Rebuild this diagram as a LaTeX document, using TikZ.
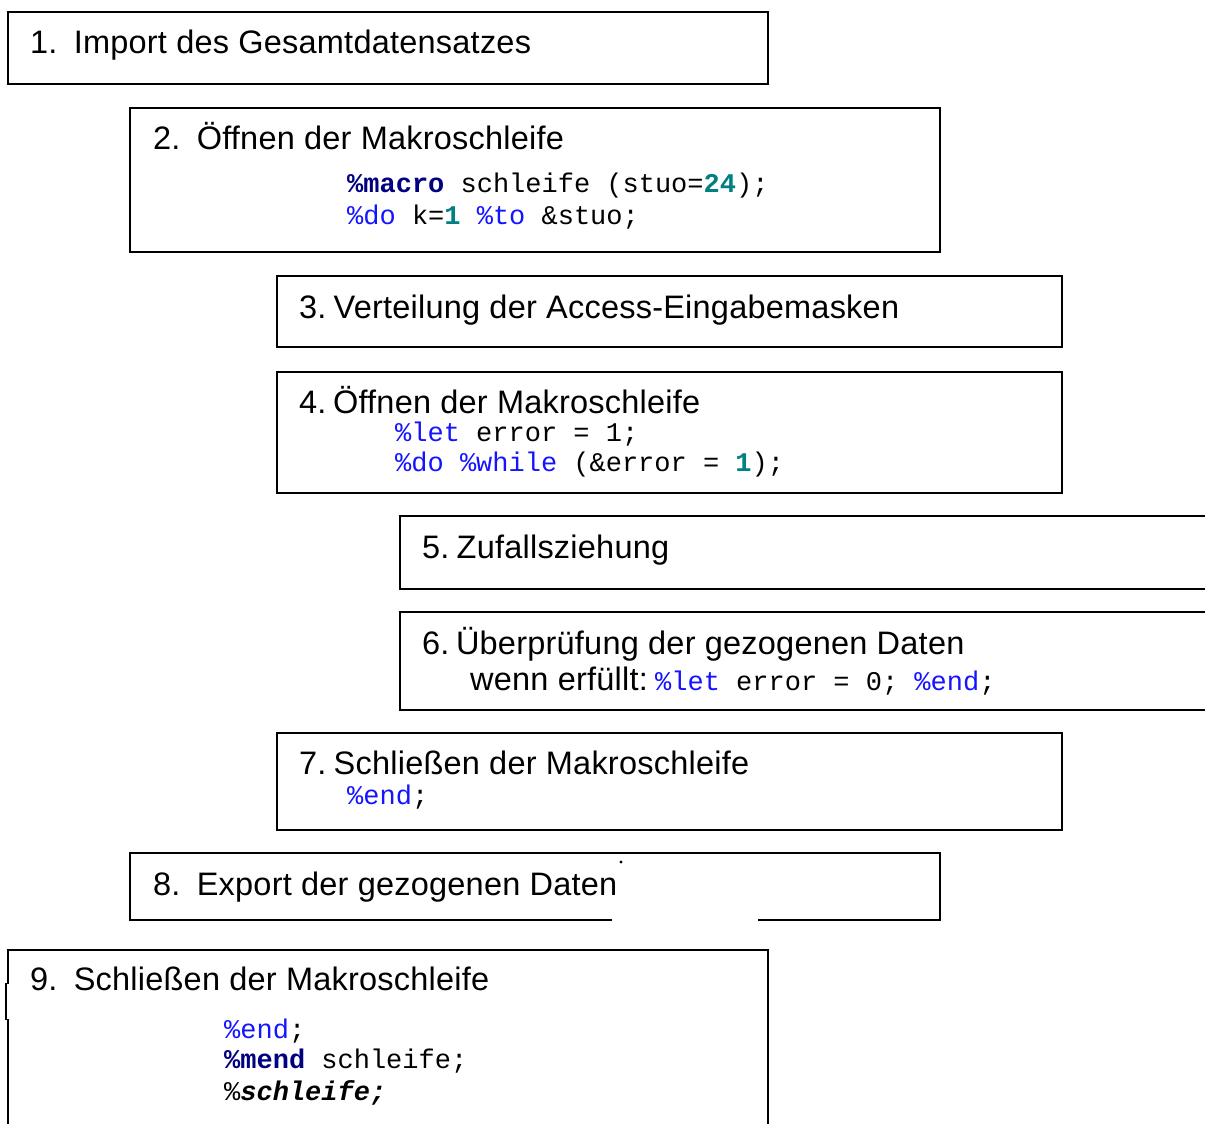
\documentclass[tikz,border=0pt]{standalone}
\usepackage{fontspec}
\setmainfont{Liberation Sans}[LetterSpace=0.7]
\setmonofont{Liberation Mono}
\definecolor{kwblue}{RGB}{20,20,255}
\definecolor{kwnavy}{RGB}{0,0,128}
\definecolor{numteal}{RGB}{0,128,128}
\newcommand{\headfont}{\fontsize{32.5}{38}\selectfont}
\newcommand{\codefont}{\fontsize{27}{30}\selectfont\ttfamily}
\newcommand{\kw}[1]{\textcolor{kwblue}{#1}}
\newcommand{\mkw}[1]{\textcolor{kwnavy}{\bfseries #1}}
\newcommand{\num}[1]{\textcolor{numteal}{\bfseries #1}}
\tikzset{
  box/.style={draw, line width=2pt, rectangle, inner sep=0pt},
  head/.style={anchor=base west, inner sep=0pt, font=\headfont},
  code/.style={anchor=base west, inner sep=0pt, font=\codefont},
}
\begin{document}
\begin{tikzpicture}[x=1pt,y=-1pt]
\useasboundingbox (0,0) rectangle (1205,1124);
\clip (0,0) rectangle (1205,1124);
\fill[white] (0,0) rectangle (1205,1124);

% step boxes
\node[box, minimum width=760pt, minimum height=72pt] (b1) at (388,48) {};
\node[box, minimum width=810pt, minimum height=144pt] (b2) at (535,180) {};
\node[box, minimum width=785pt, minimum height=71pt] (b3) at (669.5,311.5) {};
\node[box, minimum width=785pt, minimum height=121pt] (b4) at (669.5,432.5) {};
\node[box, minimum width=830pt, minimum height=73pt] (b5) at (815,552.5) {};
\node[box, minimum width=830pt, minimum height=98pt] (b6) at (815,661) {};
\node[box, minimum width=785pt, minimum height=97pt] (b7) at (669.5,781.5) {};
\node[box, minimum width=810pt, minimum height=67pt] (b8) at (535,886.5) {};
\node[box, minimum width=760pt, minimum height=180pt] (b9) at (388,1040) {};

% gap in the lower edge of box 8 and the stray dot above it
\fill[white] (612,915) rectangle (758,925);
\fill (621,862) circle (1.6pt);
% small kink in the left edge of box 9
\draw[line width=2pt] (6,983) -- (6,1020);
\fill[white] (7,984) rectangle (10,1019);

% headings
\node[head] (t1) at (30,54) {1.\hspace{0.5em}Import des Gesamtdatensatzes};
\node[head] (t2) at (153,149) {2.\hspace{0.5em}Öffnen der Makroschleife};
\node[head] (t3) at (299,318) {3.\hspace{0.22em}Verteilung der Access-Eingabemasken};
\node[head] (t4) at (299,413) {4.\hspace{0.2em}Öffnen der Makroschleife};
\node[head] (t5) at (422,558) {5.\hspace{0.22em}Zufallsziehung};
\node[head] (t6) at (422,654) {6.\hspace{0.2em}Überprüfung der gezogenen Daten};
\node[head] (t6b) at (470,690) {wenn erfüllt:};
\node[head] (t7) at (299,774) {7.\hspace{0.22em}Schließen der Makroschleife};
\node[head] (t8) at (153,895) {8.\hspace{0.5em}Export der gezogenen Daten};
\node[head] (t9) at (30,990) {9.\hspace{0.5em}Schließen der Makroschleife};

% macro code
\node[code] (c2a) at (347,192) {\mkw{\%macro} schleife (stuo=\num{24});};
\node[code] (c2b) at (347,224) {\kw{\%do} k=\num{1} \kw{\%to} \&stuo;};
\node[code] (c4a) at (395,441) {\kw{\%let} error = 1;};
\node[code] (c4b) at (395,471) {\kw{\%do} \kw{\%while} (\&error = \num{1});};
\node[code] (c6) at (655,690) {\kw{\%let} error = 0; \kw{\%end};};
\node[code] (c7) at (347,804) {\kw{\%end};};
\node[code] (c9a) at (224,1038) {\kw{\%end};};
\node[code] (c9b) at (224,1068) {\mkw{\%mend} schleife;};
\node[code] (c9c) at (224,1100) {\%\textbf{\textit{schleife;}}};
\end{tikzpicture}
\end{document}
